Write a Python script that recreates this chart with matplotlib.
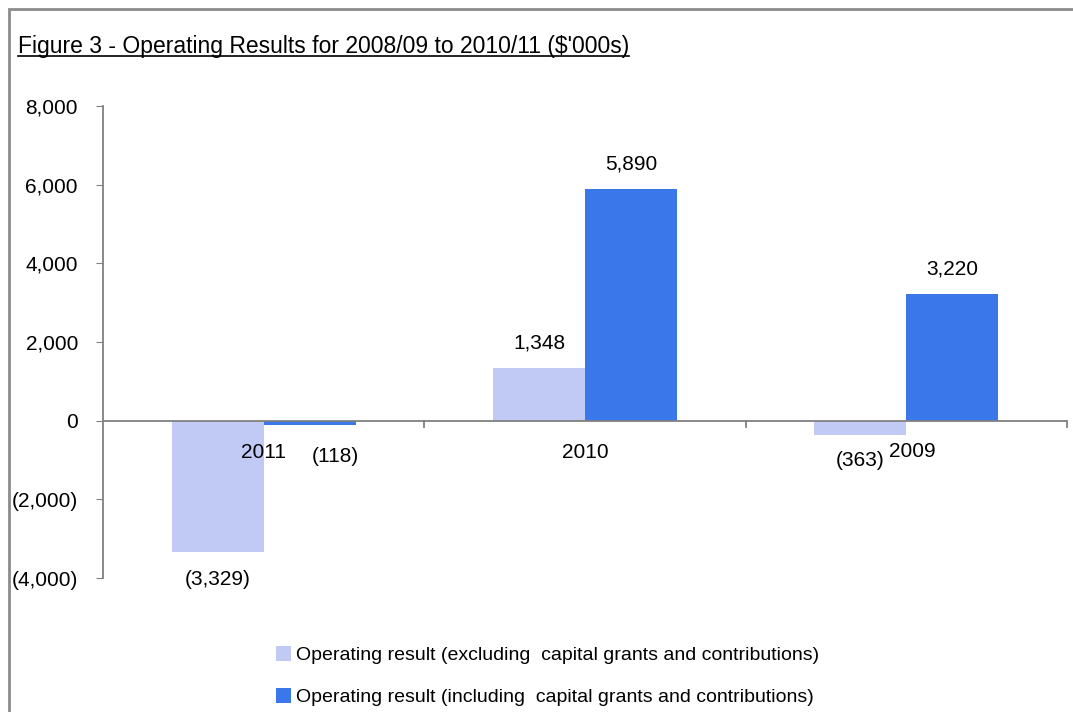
import matplotlib.pyplot as plt
import numpy as np
from matplotlib.patches import Rectangle
from matplotlib.lines import Line2D

years = ['2011', '2010', '2009']
excl = [-3329, 1348, -363]
incl = [-118, 5890, 3220]
yticks = [-4000, -2000, 0, 2000, 4000, 6000, 8000]
labels = ['Operating result (excluding  capital grants and contributions)',
          'Operating result (including  capital grants and contributions)']
title = "Figure 3 - Operating Results for 2008/09 to 2010/11 ($'000s)"

plt.rcParams['font.family'] = ['Liberation Sans Narrow', 'Liberation Sans', 'DejaVu Sans']
FS = 15

def fmt(v):
    s = '{:,}'.format(abs(int(v)))
    return '(' + s + ')' if v < 0 else s

fig = plt.figure(figsize=(10.73, 7.12), dpi=100)
ax = fig.add_axes([103/1073, 1-578/712, (1067-103)/1073, (578-106)/712])

x = np.arange(len(years))
w = 0.286
c1, c2 = '#c0caf5', '#3a77ea'
b1 = ax.bar(x - w/2, excl, w, color=c1, label=labels[0])
b2 = ax.bar(x + w/2, incl, w, color=c2, label=labels[1])

ax.set_xlim(-0.5, 2.5)
ax.set_ylim(-4000, 8000)
ax.set_yticks(yticks)
ax.set_yticklabels([fmt(v) for v in yticks], fontsize=FS)
ax.tick_params(axis='y', length=5, color='#808080', pad=13)

for s in ['top', 'right', 'bottom']:
    ax.spines[s].set_visible(False)
ax.spines['left'].set_color('#808080')
ax.spines['left'].set_linewidth(1.3)
ax.axhline(0, color='#808080', lw=1.3, zorder=3)
ax.set_xticks([])
for t in [0.5, 1.5, 2.5]:
    ax.plot([t, t], [0, -150], color='#808080', lw=1.3, clip_on=False, zorder=3)

# category labels under the zero line (Excel shoved the 2009 one aside)
cat_pos = [(0.0, -800), (0.0, -800), (0.02, -780)]
for i, yr in enumerate(years):
    dx, yy = cat_pos[i]
    ax.text(x[i] + dx, yy, yr, ha='center', va='center', fontsize=FS)

# value labels
for bars, vals in [(b1, excl), (b2, incl)]:
    for b, v in zip(bars, vals):
        cx = b.get_x() + b.get_width()/2
        if v >= 0:
            ax.text(cx, v + 630, fmt(v), ha='center', va='center', fontsize=FS)
        elif v < -1000:
            ax.text(cx, v - 700, fmt(v), ha='center', va='center', fontsize=FS)
        elif b in b2:
            # small negative: pushed right of the category label
            ax.text(cx + 0.08, -920, fmt(v), ha='center', va='center', fontsize=FS)
        else:
            ax.text(cx, -1020, fmt(v), ha='center', va='center', fontsize=FS)

leg = fig.legend(handles=[b1, b2], labels=labels, loc='center left',
                 bbox_to_anchor=(266/1073, 1-676/712), frameon=False, fontsize=14,
                 handlelength=0.8, handleheight=0.8, handletextpad=0.25,
                 labelspacing=1.2, borderpad=0)

# outer border
fig.patches.append(Rectangle((8.5/1073, -0.1), 2, 1.1 - 9/712, transform=fig.transFigure,
                             fill=False, edgecolor='#8c8c8c', lw=2))

t = fig.text(18/1073, 1-46/712, title, ha='left', va='center', fontsize=16.5)
fig.canvas.draw()
bb = t.get_window_extent().transformed(fig.transFigure.inverted())
fig.lines.append(Line2D([bb.x0, bb.x1], [bb.y0 + 0.002, bb.y0 + 0.002],
                        transform=fig.transFigure, color='black', lw=1.2))

fig.savefig('out.png', dpi=100)
